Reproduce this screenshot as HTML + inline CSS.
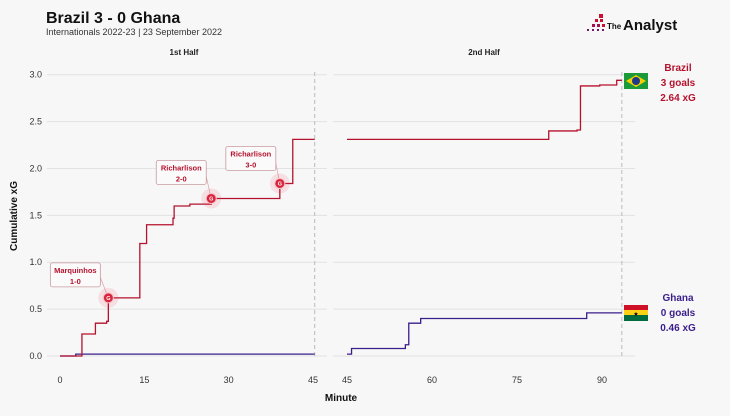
<!DOCTYPE html>
<html><head><meta charset="utf-8">
<style>
body{margin:0;background:#f7f7f7;font-family:"Liberation Sans",sans-serif;}
svg text{font-family:"Liberation Sans",sans-serif;}
</style></head>
<body>
<svg id="c" width="730" height="411" viewBox="0 0 730 411" xmlns="http://www.w3.org/2000/svg">
<rect width="730" height="411" fill="#f7f7f7"/>
<text x="46" y="23" font-size="16" font-weight="bold" fill="#111">Brazil 3 - 0 Ghana</text>
<text x="46" y="35" font-size="9" fill="#333">Internationals 2022-23 | 23 September 2022</text>
<g>
<rect x="599" y="14" width="4" height="4" fill="#c8102e"/><rect x="595" y="19" width="3" height="3" fill="#c8102e"/><rect x="600" y="19" width="3" height="3" fill="#c8102e"/><rect x="592" y="24" width="3" height="3" fill="#a0144a"/><rect x="597" y="24" width="3" height="3" fill="#a0144a"/><rect x="602" y="24" width="3" height="3" fill="#c8102e"/><rect x="587" y="29" width="2" height="2" fill="#6a1b6a"/><rect x="592" y="29" width="2" height="2" fill="#6a1b6a"/><rect x="597" y="29" width="2" height="2" fill="#6a1b6a"/><rect x="602" y="29" width="2" height="2" fill="#6a1b6a"/>
<text x="607" y="29" font-size="8" font-weight="bold" fill="#111">The</text>
<text x="623" y="30" font-size="15" font-weight="bold" fill="#111">Analyst</text>
</g>
<text x="184" y="55" font-size="8" font-weight="bold" text-anchor="middle" fill="#222">1st Half</text>
<text x="484" y="55" font-size="8" font-weight="bold" text-anchor="middle" fill="#222">2nd Half</text>
<text transform="translate(17,216) rotate(-90)" font-size="10" font-weight="bold" text-anchor="middle" fill="#111">Cumulative xG</text>
<text x="341" y="401" font-size="10" font-weight="bold" text-anchor="middle" fill="#111">Minute</text>
<g id="grid"></g><g id="lines"></g><g id="ann"></g>
<g>
<rect x="624" y="73" width="24" height="16" fill="#1a9a3a"/><polygon points="626,81 636,75 646,81 636,87" fill="#f5d000"/><circle cx="636" cy="81" r="4" fill="#1e3a8a"/>
<text x="678" y="71" font-size="10" font-weight="bold" text-anchor="middle" fill="#b5122e">Brazil</text>
<text x="678" y="86" font-size="10" font-weight="bold" text-anchor="middle" fill="#b5122e">3 goals</text>
<text x="678" y="101" font-size="10" font-weight="bold" text-anchor="middle" fill="#b5122e">2.64 xG</text>
</g>
<g>
<rect x="624" y="305" width="24" height="6" fill="#ce1126"/><rect x="624" y="310" width="24" height="6" fill="#fcd116"/><rect x="624" y="315" width="24" height="6" fill="#006b3f"/><text x="636" y="316" font-size="6" text-anchor="middle" fill="#000">★</text>
<text x="678" y="301" font-size="10" font-weight="bold" text-anchor="middle" fill="#3a1e8c">Ghana</text>
<text x="678" y="316" font-size="10" font-weight="bold" text-anchor="middle" fill="#3a1e8c">0 goals</text>
<text x="678" y="331" font-size="10" font-weight="bold" text-anchor="middle" fill="#3a1e8c">0.46 xG</text>
</g>
</svg>
<script>
const yTicks=[0,0.5,1,1.5,2,2.5,3];
const xTicks1=[0,15,30,45];
const xTicks2=[45,60,75,90];
const brazil1Min=[0,3.9,6.3,8.3,8.6,14.2,15.4,20.1,20.3,23.1,26.9,39.1,41.4,45.3];
const brazil1Val=[0,0.235,0.35,0.37,0.62,1.20,1.40,1.47,1.60,1.62,1.68,1.84,2.31,2.31];
const ghana1Min=[0,2.8,45.3];
const ghana1Val=[0,0.02,0.02];
const brazil2Min=[45,80.6,85.6,86.2,89.6,92.6,93.5];
const brazil2Val=[2.31,2.40,2.41,2.88,2.89,2.94,2.94];
const ghana2Min=[45,45.8,55.3,55.9,58,87.3,93.5];
const ghana2Val=[0.02,0.08,0.12,0.35,0.40,0.46,0.46];
const goalMin=[8.6,26.9,39.1];
const goalVal=[0.62,1.68,1.84];
const goalScorer=["Marquinhos","Richarlison","Richarlison"];
const goalScore=["1-0","2-0","3-0"];
const NS="http://www.w3.org/2000/svg";
const y=v=>356-v*(281.3/3);
const x1=m=>60+m*(253/45);
const x2=m=>347+(m-45)*(255/45);
function mk(t,a,p){const e=document.createElementNS(NS,t);for(const k in a)e.setAttribute(k,a[k]);p.appendChild(e);return e;}
const grid=document.getElementById('grid'),lines=document.getElementById('lines'),ann=document.getElementById('ann');
yTicks.forEach(v=>{
 let l=mk('line',{x1:47,x2:327,y1:y(v),y2:y(v),stroke:'#e2e2e2','stroke-width':1},grid);
 
 let r=mk('line',{x1:333,x2:635,y1:y(v),y2:y(v),stroke:'#e2e2e2','stroke-width':1},grid);
 
 let t=mk('text',{x:42,y:y(v)+3,'font-size':9,'text-anchor':'end',fill:'#333'},grid);t.textContent=v.toFixed(1);
 
});
xTicks1.forEach(m=>{let t=mk('text',{x:x1(m),y:383,'font-size':9,'text-anchor':'middle',fill:'#333'},grid);t.textContent=m;
 });
xTicks2.forEach(m=>{let t=mk('text',{x:x2(m),y:383,'font-size':9,'text-anchor':'middle',fill:'#333'},grid);t.textContent=m;
 });
let d1=mk('line',{x1:x1(45.3),x2:x1(45.3),y1:72,y2:358,stroke:'#bbb','stroke-dasharray':'4,3'},grid);

let d2=mk('line',{x1:x2(93.5),x2:x2(93.5),y1:72,y2:358,stroke:'#bbb','stroke-dasharray':'4,3'},grid);

function step(ms,vs,fx){let d='M'+fx(ms[0])+','+y(vs[0]);for(let i=1;i<ms.length;i++){d+=' H'+fx(ms[i])+' V'+y(vs[i]);}return d;}
[[ghana1Min,ghana1Val,x1,'#3a1e8c','ghana-line-first-half'],[ghana2Min,ghana2Val,x2,'#3a1e8c','ghana-line-second-half'],
 [brazil1Min,brazil1Val,x1,'#b5122e','brazil-line-first-half'],[brazil2Min,brazil2Val,x2,'#b5122e','brazil-line-second-half']].forEach(s=>{
 let p=mk('path',{d:step(s[0],s[1],s[2]),fill:'none',stroke:s[3],'stroke-width':1.3},lines);
 
});
const boxOff=[[-33,-23],[-30,-26],[-29,-25]];
goalMin.forEach((m,i)=>{
 const gx=x1(m),gy=y(goalVal[i]);const bx=gx+boxOff[i][0],by=gy+boxOff[i][1];
 let ln=mk('line',{x1:bx+(i==0?24:24),y1:by,x2:gx,y2:gy,stroke:'#d9a0a8','stroke-width':0.7},ann);
 
 let r=mk('rect',{x:bx-25,y:by-12,width:50,height:24,rx:2,fill:'#fafafa',stroke:'#c99aa0','stroke-width':0.8},ann);
 
 let t1=mk('text',{x:bx,y:by-2,'font-size':7.5,'font-weight':'bold','text-anchor':'middle',fill:'#b5122e'},ann);t1.textContent=goalScorer[i];
 
 let t2=mk('text',{x:bx,y:by+9,'font-size':7.5,'font-weight':'bold','text-anchor':'middle',fill:'#b5122e'},ann);t2.textContent=goalScore[i];
 
 let h=mk('circle',{cx:gx,cy:gy,r:10,fill:'#e8334a',opacity:0.12},ann);
 
 let c=mk('circle',{cx:gx,cy:gy,r:5,fill:'#d7263d',stroke:'#f5c0c6','stroke-width':1},ann);
 
 let g=mk('text',{x:gx,y:gy+2.2,'font-size':5.5,'font-weight':'bold','text-anchor':'middle',fill:'#fff'},ann);g.textContent='G';
 
});
</script>
</body></html>
